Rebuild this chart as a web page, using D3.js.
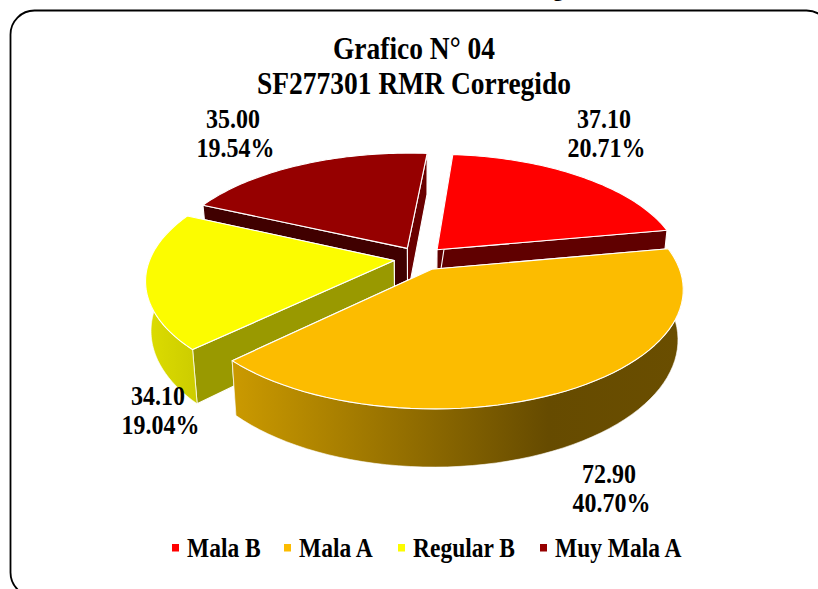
<!DOCTYPE html>
<html><head><meta charset="utf-8">
<script src="https://cdnjs.cloudflare.com/ajax/libs/d3/7.8.5/d3.min.js"></script>
<style>html,body{margin:0;padding:0;background:#fff;overflow:hidden}svg{display:block}text{font-family:"Liberation Serif",serif;font-weight:bold;fill:#000}</style>
</head><body><svg id="c" width="818" height="589"></svg>
<script>
const categories = ["Mala B","Mala A","Regular B","Muy Mala A"];
const values = [37.10,72.90,34.10,35.00];
const percents = ["20.71%","40.70%","19.04%","19.54%"];
const titleLines = ["Grafico N° 04","SF277301 RMR Corregido"];
const topColors = ["#ff0000","#fcbc00","#fcfc00","#960000"];
const explodeBySlice = [0.105,0.105,0.107,0.105];

const svg=d3.select("#c");
const defs=svg.append("defs");
// frame
svg.append("rect").attr("x",10.5).attr("y",10.5).attr("width",820).attr("height",586).attr("rx",24).attr("ry",24)
   .attr("fill","#fff").attr("stroke","#000").attr("stroke-width",1.8);
svg.append("text").attr("x",553).attr("y",-4).attr("font-size",21).text("g");

function stretched(x,y,size,anchor,t){
  svg.append("text").attr("transform",`translate(${x},${y}) scale(1,1.12)`).attr("text-anchor",anchor).attr("font-size",size).text(t);
}

// projection from unit-disc plane to screen
const cx=420, cy=258.5, Rx=244, Ry=113.5, persp=0.16, depth=48, shrink=0.02;
const sx=d3.scaleLinear().domain([-1,1]).range([cx-Rx,cx+Rx]);
const sy=d3.scaleLinear().domain([-1,1]).range([cy-Ry,cy+Ry]);
function proj(u,v,z){ // z 0 top, 1 bottom
  const s=1/(1-persp*v);
  return [cx+(sx(u)-cx)*s*(1-shrink*z), cy+(sy(v)-cy+z*depth)*s];
}
const pie=d3.pie().sort(null).startAngle(5*Math.PI/180).endAngle(365*Math.PI/180);
const arcs=pie(values);
const line=d3.line();
function polar(a,r,o){return [o[0]+r*Math.sin(a), o[1]-r*Math.cos(a)];}
function sampled(a0,a1,o,z){
  return d3.range(0,61).map(i=>{const a=a0+(a1-a0)*i/60;const p=polar(a,1,o);return proj(p[0],p[1],z);});
}
const wallColors=[{start:"#600000",end:"#600000"},{start:"#6b5000",end:"#6b5000"},{start:"#999900",end:"#999900"},{start:"#400000",end:"#6a0000"}];
const outerStops=[
  [[0,"#c00000"],[1,"#600000"]],
  [[0,"#cb9a00"],[0.7,"#664b00"],[1,"#6a4e00"]],
  [[0,"#dddd00"],[1,"#cccc00"]],
  [[0,"#6a0000"],[1,"#400000"]]
];
outerStops.forEach((st,i)=>{
  const g=defs.append("linearGradient").attr("id","g"+i).attr("gradientUnits","objectBoundingBox").attr("x1",0).attr("x2",1).attr("y1",0).attr("y2",0);
  st.forEach(s=>g.append("stop").attr("offset",s[0]).attr("stop-color",s[1]));
});
const order=[3,0,2,1];
const pieG=svg.append("g").attr("stroke","#fff").attr("stroke-width",1.1).attr("stroke-linejoin","round");
order.forEach(i=>{
  const d=arcs[i], mid=(d.startAngle+d.endAngle)/2;
  const o=polar(mid,explodeBySlice[i],[0,0]);
  const g=pieG.append("g");
  const a0=d.startAngle,a1=d.endAngle;
  const pa=polar(a0,1,o),pb=polar(a1,1,o);
  // radial walls
  g.append("path").attr("d",line([proj(o[0],o[1],0),proj(pb[0],pb[1],0),proj(pb[0],pb[1],1),proj(o[0],o[1],1)])+"Z").attr("fill",wallColors[i].end);
  g.append("path").attr("d",line([proj(o[0],o[1],0),proj(pa[0],pa[1],0),proj(pa[0],pa[1],1),proj(o[0],o[1],1)])+"Z").attr("fill",wallColors[i].start);
  // outer wall: only the part facing the viewer
  const hi=Math.min(a1,3*Math.PI/2+0.25);
  if(a1>Math.PI/2 && hi>a0){
    const top=sampled(a0,hi,o,0), bot=sampled(a0,hi,o,1).reverse();
    g.append("path").attr("d",line(top.concat(bot))+"Z").attr("fill","url(#g"+i+")").attr("stroke-width",0.6);
  }
  // top
  const topPts=[proj(o[0],o[1],0)].concat(sampled(a0,a1,o,0));
  g.append("path").attr("d",line(topPts)+"Z").attr("fill",topColors[i]);
});
// title
titleLines.forEach((t,i)=>stretched(414,[59,93.5][i],27.5,"middle",t));
// data labels
const labelAt=[[604,128],[609,483],[158,405],[233,128]];
values.forEach((v,i)=>{
  stretched(labelAt[i][0],labelAt[i][1],24,"middle",v.toFixed(2));
  stretched(labelAt[i][0]+2.5,labelAt[i][1]+29,24,"middle",percents[i]);
});
// legend
const legX=[172,284,398,540];
categories.forEach((c,i)=>{
  svg.append("rect").attr("x",legX[i]).attr("y",544).attr("width",7).attr("height",7.5).attr("fill",topColors[i]);
  stretched(legX[i]+15,557,23.5,"start",c);
});
</script></body></html>
